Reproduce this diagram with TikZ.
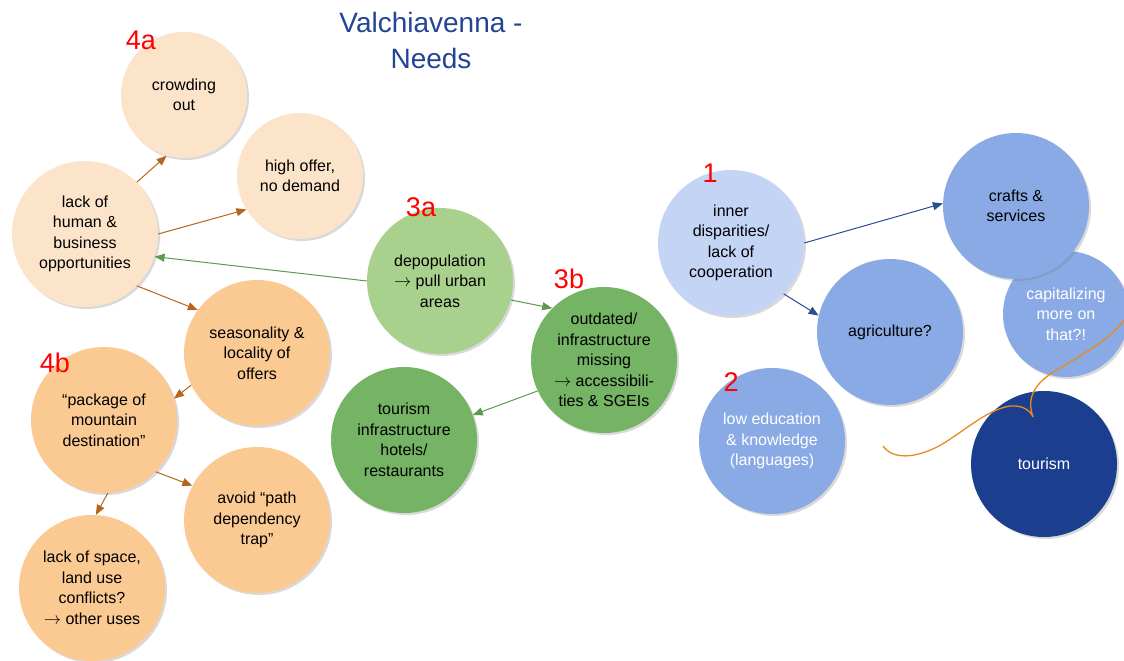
\documentclass[tikz,border=0pt]{standalone}
\usepackage{fontspec}
\setmainfont{Liberation Sans}
\usepackage{tikz}
\usetikzlibrary{arrows.meta, shadows}

\definecolor{peachlight}{HTML}{FCE4CA}
\definecolor{peach}{HTML}{FBC992}
\definecolor{greenlight}{HTML}{A9D18E}
\definecolor{greenmid}{HTML}{74B464}
\definecolor{bluelight}{HTML}{C3D4F4}
\definecolor{bluemid}{HTML}{8AAAE6}
\definecolor{bluedark}{HTML}{1B3F8E}
\definecolor{titleblue}{HTML}{234494}
\definecolor{arrbrown}{HTML}{B5651D}
\definecolor{arrgreen}{HTML}{5C9A4E}
\definecolor{arrblue}{HTML}{2B4D91}
\definecolor{curveorange}{HTML}{E88A1E}

\begin{document}
\begin{tikzpicture}[x=1pt, y=-1pt,
  bubble/.style={circle, minimum size=146pt, inner sep=0pt, align=center,
    font=\fontsize{16}{20.5}\selectfont,
    drop shadow={shadow xshift=2pt, shadow yshift=-2pt, opacity=0.3}},
  bubblesmall/.style={bubble, minimum size=126pt},
  num/.style={text=red, font=\fontsize{27}{27}\selectfont},
  link/.style={-{Triangle[length=10pt, width=8pt]}, line width=1pt}
]
\useasboundingbox (0, 0) rectangle (1124, 661);

% Title
\node[text=titleblue, align=center, font=\fontsize{28}{36}\selectfont] (title)
  at (431, 40) {Valchiavenna -\\Needs};

% 4a: human & business opportunities
\node[bubblesmall, fill=peachlight] (crowd) at (184, 95) {crowding\\out};
\node[bubblesmall, fill=peachlight] (high) at (300, 176) {high offer,\\no demand};
\node[bubble, fill=peachlight] (lack) at (85, 234)
  {lack of\\human \&\\business\\opportunities};

% 4b: seasonality and destination
\node[bubble, fill=peach] (season) at (257, 353) {seasonality \&\\locality of\\offers};
\node[bubble, fill=peach] (pkg) at (104, 420)
  {“package of\\mountain\\destination”};
\node[bubble, fill=peach] (avoid) at (257, 520) {avoid “path\\dependency\\trap”};
\node[bubble, fill=peach] (space) at (92, 588)
  {lack of space,\\land use\\conflicts?\\$\rightarrow$ other uses};

% 3a / 3b: population and infrastructure
\node[bubble, fill=greenlight] (depop) at (440, 281)
  {depopulation\\$\rightarrow$ pull urban\\areas};
\node[bubble, fill=greenmid] (outd) at (604, 360)
  {outdated/\\infrastructure\\missing\\$\rightarrow$ accessibili-\\ties \& SGEIs};
\node[bubble, fill=greenmid] (infra) at (404, 440)
  {tourism\\infrastructure\\hotels/\\restaurants};

% 1 / 2: cooperation and education
\node[bubble, fill=bluelight] (inner) at (731, 243)
  {inner\\disparities/\\lack of\\cooperation};
\node[bubble, fill=bluemid] (agri) at (890, 332) {agriculture?};
\node[bubblesmall, fill=bluemid, text=white] (capit) at (1066, 314)
  {capitalizing\\more on\\that?!};
\node[bubble, fill=bluemid] (crafts) at (1016, 206) {crafts \&\\services};
\node[bubble, fill=bluemid, text=white] (edu) at (772, 441)
  {low education\\\& knowledge\\(languages)};
\node[bubble, fill=bluedark, text=white] (tour) at (1044, 464) {tourism};

% Numbers
\node[num] (n4a) at (141, 40) {4a};
\node[num] (n4b) at (55, 363) {4b};
\node[num] (n3a) at (421, 207) {3a};
\node[num] (n3b) at (569, 279) {3b};
\node[num] (n1) at (710, 173) {1};
\node[num] (n2) at (731, 382) {2};

% Arrows
\draw[link, arrbrown] (lack.45) -- (crowd.254);
\draw[link, arrbrown] (lack.0) -- (high.212);
\draw[link, arrbrown] (lack.315) -- (season.144);
\draw[link, arrbrown] (season.206) -- (pkg.17);
\draw[link, arrbrown] (pkg.315) -- (avoid.152);
\draw[link, arrbrown] (pkg.273) -- (space.87);
\draw[link, arrgreen] (depop.180) -- (lack.342);
\draw[link, arrgreen] (depop.345) -- (outd.135);
\draw[link, arrgreen] (outd.205) -- (infra.20);
\draw[link, arrblue] (inner.0) -- (crafts.178);
\draw[link, arrblue] (inner.316) -- (agri.167);

% Free-hand curve
\coordinate (cstart) at (883, 446);
\coordinate (ccusp) at (1033, 417);
\coordinate (cend) at (1126, 318);
\draw[curveorange, line width=1.3pt] (cstart)
  .. controls (893, 460) and (915, 458) .. (937, 447)
  .. controls (960, 435) and (985, 410) .. (1010, 406)
  .. controls (1022, 405) and (1030, 410) .. (ccusp)
  .. controls (1027, 400) and (1032, 385) .. (1055, 371)
  .. controls (1080, 356) and (1110, 340) .. (cend);

\end{tikzpicture}
\end{document}
